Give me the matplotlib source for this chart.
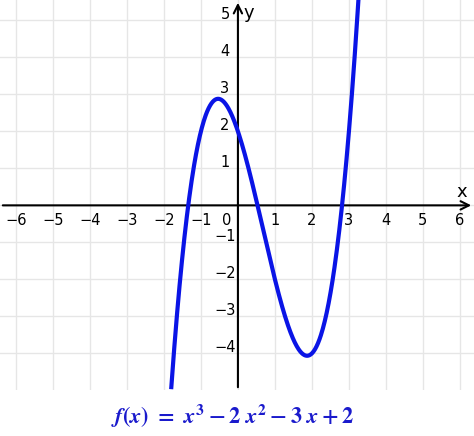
import numpy as np
from matplotlib import pyplot as plt

plt.rcParams['mathtext.fontset'] = 'custom'
plt.rcParams['mathtext.it'] = 'STIXGeneral:italic:bold'
plt.rcParams['mathtext.rm'] = 'STIXGeneral:bold'
plt.rcParams['mathtext.bf'] = 'STIXGeneral:bold'

coeffs = [1, -2, -3, 2]  # x^3 - 2x^2 - 3x + 2
x_ticks = [-6, -5, -4, -3, -2, -1, 1, 2, 3, 4, 5, 6]
y_ticks = [-4, -3, -2, -1, 1, 2, 3, 4, 5]
x_range = (-1.8, 3.42)

fig = plt.figure(figsize=(4.74, 4.36), dpi=100)
ax = fig.add_axes([0, 46/436, 1, 390/436])
ax.set_xlim(-6.43, 6.38)
ax.set_ylim(-4.99, 5.55)
ax.axis('off')

for g in range(-6, 7):
    ax.axvline(g, color='#e6e6e6', lw=1, zorder=0)
for g in range(-4, 6):
    ax.axhline(g, color='#e6e6e6', lw=1, zorder=0)

ax.annotate('', xy=(6.38, 0), xytext=(-6.43, 0),
            arrowprops=dict(arrowstyle='->', lw=1.5, color='black', mutation_scale=15))
ax.annotate('', xy=(0, 5.55), xytext=(0, -4.99),
            arrowprops=dict(arrowstyle='->', lw=1.5, color='black', mutation_scale=15))
ax.text(6.05, 0.12, 'x', fontsize=13, ha='center', va='bottom')
ax.text(0.3, 5.2, 'y', fontsize=13, ha='center', va='center')

for t in x_ticks:
    ax.text(t, -0.42, '\u2212%d' % -t if t < 0 else str(t), fontsize=10.5, ha='center', va='center')
ax.text(-0.3, -0.42, '0', fontsize=10.5, ha='center', va='center')
for t in y_ticks:
    ax.text(-0.35, t + 0.15, '\u2212%d' % -t if t < 0 else str(t), fontsize=10.5, ha='center', va='center')

xs = np.linspace(x_range[0], x_range[1], 400)
ax.plot(xs, np.polyval(coeffs, xs), color='#0a14e6', lw=3, zorder=3)

fig.text(0.49, 0.045, r'$f(x)\ =\ x^3 - 2\ x^2 - 3\ x + 2$',
         color='#1a1acc', fontsize=16, ha='center', va='center')
fig.savefig('out.png', dpi=100)
